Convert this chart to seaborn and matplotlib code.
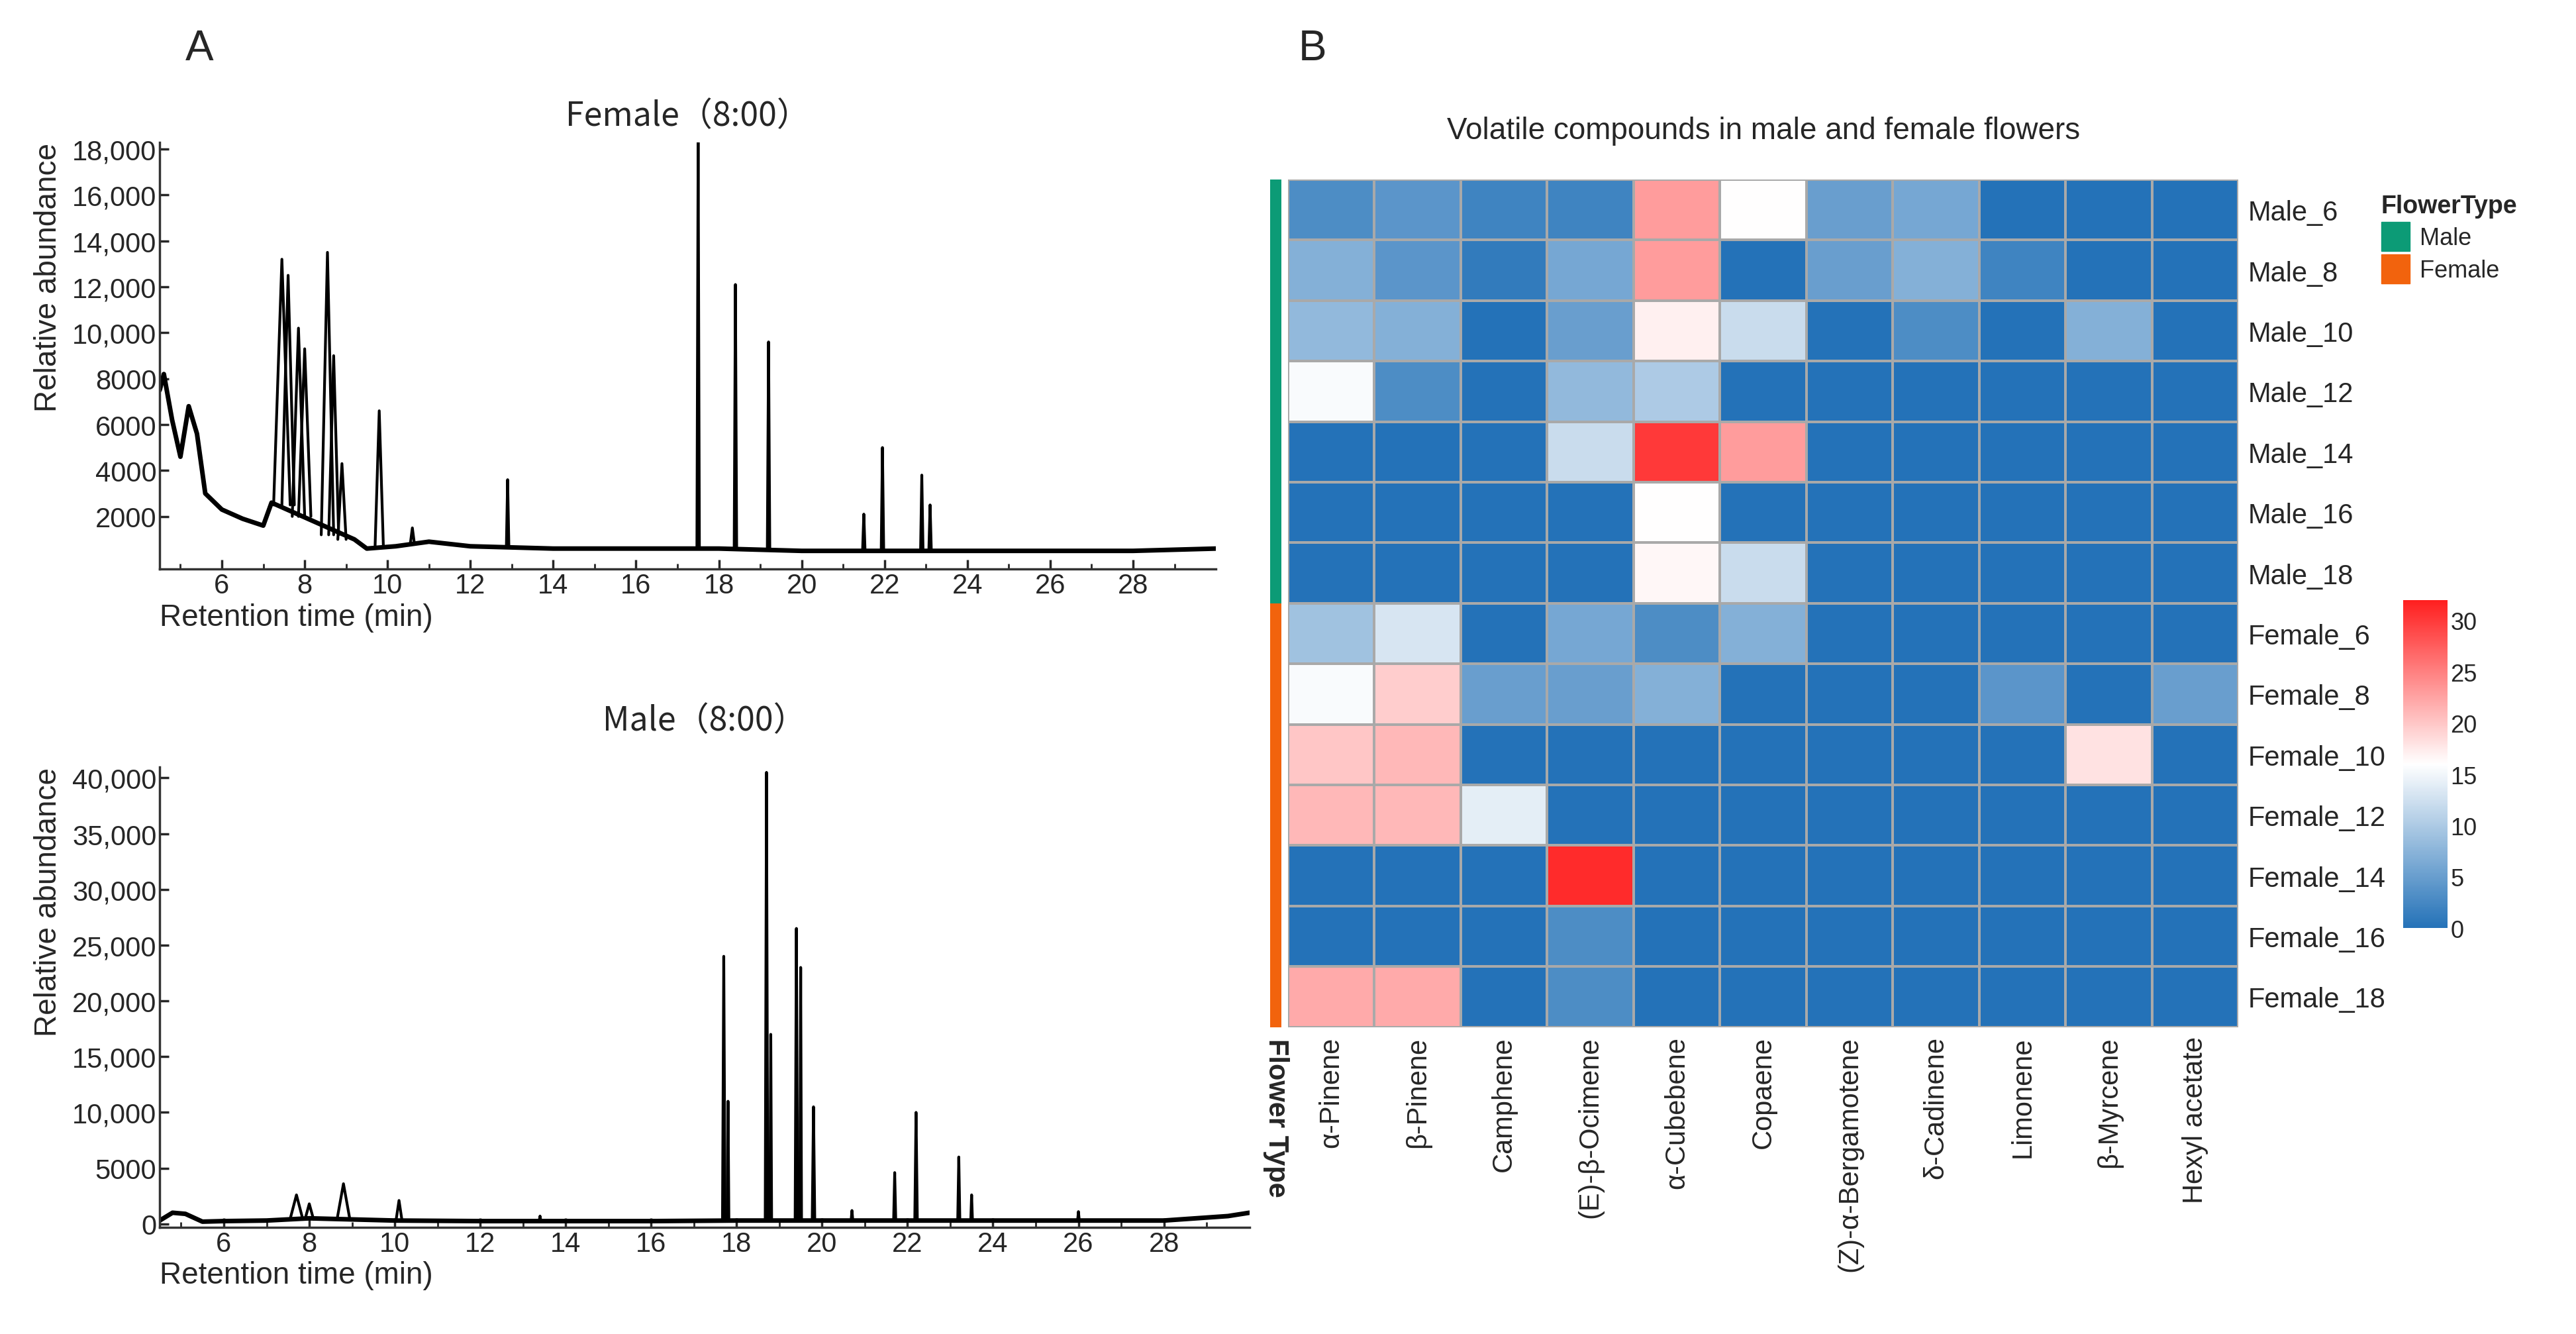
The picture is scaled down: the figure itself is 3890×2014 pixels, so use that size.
import matplotlib
matplotlib.use("Agg")
import matplotlib.pyplot as plt
import matplotlib.colors as mcolors
from matplotlib.patches import Patch
import seaborn as sns
import numpy as np
import pandas as pd

sns.set_style("white")
plt.rcParams['font.family'] = ['Liberation Sans', 'DejaVu Sans']

# ---- chromatogram data (retention time, abundance) ----
fem_base_t = [4.5, 4.6, 4.8, 5.0, 5.2, 5.4, 5.6, 6.0, 6.5, 7.0, 7.2, 9.2, 9.5, 10.2, 11, 12, 14, 16, 18, 20, 22, 24, 26, 28, 30]
fem_base_y = [7500, 8200, 6200, 4600, 6800, 5600, 3000, 2300, 1900, 1600, 2600, 1000, 600, 700, 900, 700, 600, 600, 600, 500, 500, 500, 500, 500, 600]
# peaks: time, height, half width, base level
fem_pk_t = [7.45, 7.6, 7.85, 8.0, 8.55, 8.7, 8.9, 9.8, 10.6, 12.9, 17.5, 18.4, 19.2, 21.5, 21.95, 22.9, 23.1]
fem_pk_h = [13200, 12500, 10200, 9300, 13500, 9000, 4300, 6600, 1500, 3600, 18300, 12100, 9600, 2100, 5000, 3800, 2500]
fem_pk_w = [0.2, 0.15, 0.15, 0.15, 0.15, 0.12, 0.1, 0.1, 0.05, 0.03, 0.03, 0.03, 0.03, 0.03, 0.03, 0.03, 0.03]
fem_pk_b = [2500, 2500, 2000, 2000, 1200, 1200, 1000, 700, 800, 700, 600, 600, 600, 500, 500, 500, 500]

male_base_t = [4.5, 4.8, 5.1, 5.5, 6, 7, 8, 9, 10, 12, 14, 16, 18, 20, 22, 24, 26, 28, 29.5, 30]
male_base_y = [300, 1000, 900, 200, 250, 300, 500, 400, 300, 250, 250, 250, 300, 300, 300, 300, 300, 300, 700, 1000]
male_pk_t = [7.7, 8.0, 8.8, 10.1, 13.4, 17.7, 17.8, 18.7, 18.8, 19.4, 19.5, 19.8, 20.7, 21.7, 22.2, 23.2, 23.5, 26.0]
male_pk_h = [2600, 1800, 3600, 2100, 700, 24000, 11000, 40500, 17000, 26500, 23000, 10500, 1200, 4600, 10000, 6000, 2600, 1100]
male_pk_w = [0.15, 0.1, 0.15, 0.07, 0.02, 0.03, 0.02, 0.03, 0.02, 0.03, 0.02, 0.03, 0.02, 0.025, 0.03, 0.025, 0.02, 0.02]
male_pk_b = [400, 400, 400, 300, 250, 300, 300, 300, 300, 300, 300, 300, 300, 300, 300, 300, 300, 300]

# ---- heatmap data ----
compounds = ["α-Pinene", "β-Pinene", "Camphene", "(E)-β-Ocimene", "α-Cubebene", "Copaene",
             "(Z)-α-Bergamotene", "δ-Cadinene", "Limonene", "β-Myrcene", "Hexyl acetate"]
samples = ["Male_6", "Male_8", "Male_10", "Male_12", "Male_14", "Male_16", "Male_18",
           "Female_6", "Female_8", "Female_10", "Female_12", "Female_14", "Female_16", "Female_18"]
flower_type = ["Male"] * 7 + ["Female"] * 7
values = [
    [3, 4, 2, 2, 23, 16, 5, 6, 0, 0, 0],
    [7, 4, 1, 6, 23, 0, 5, 7, 2, 0, 0],
    [8, 7, 0, 5, 17, 12, 0, 3, 0, 7, 0],
    [15.5, 3, 0, 8, 10, 0, 0, 0, 0, 0, 0],
    [0, 0, 0, 12, 30, 23, 0, 0, 0, 0, 0],
    [0, 0, 0, 0, 16, 0, 0, 0, 0, 0, 0],
    [0, 0, 0, 0, 16.5, 12, 0, 0, 0, 0, 0],
    [9, 13, 0, 6, 3, 7, 0, 0, 0, 0, 0],
    [15.5, 19.5, 5, 5, 7, 0, 0, 0, 4, 0, 5],
    [20, 21, 0, 0, 0, 0, 0, 0, 0, 18, 0],
    [21, 21, 14, 0, 0, 0, 0, 0, 0, 0, 0],
    [0, 0, 0, 31, 0, 0, 0, 0, 0, 0, 0],
    [0, 0, 0, 3, 0, 0, 0, 0, 0, 0, 0],
    [22, 22, 0, 3, 0, 0, 0, 0, 0, 0, 0],
]
type_colors = {"Male": "#0c9b76", "Female": "#f2630d"}

fig = plt.figure(figsize=(38.9, 20.15), dpi=100)


def chromatogram(ax, bt, by, pt, ph, pw, pb, ymax, yticks, title, title_pad):
    ax.plot(bt, by, color="black", lw=5)
    for t, h, w, b in zip(pt, ph, pw, pb):
        ax.plot([t - w, t, t + w], [b, h, b], color="black", lw=3)
    ax.set_xlim(4.5, 30)
    ax.set_ylim(-300, ymax)
    ax.set_xticks(range(6, 30, 2))
    ax.set_xticks(np.arange(5, 30, 1), minor=True)
    ax.set_yticks(yticks)
    ax.set_yticklabels([f"{v:,}" if v >= 10000 else str(v) for v in yticks])
    sns.despine(ax=ax)
    for s in ["left", "bottom"]:
        ax.spines[s].set_color("#333333")
        ax.spines[s].set_linewidth(2.5)
    ax.tick_params(axis="both", which="major", direction="in", length=10, width=2.5,
                   labelsize=30, left=True, bottom=True)
    ax.tick_params(axis="x", which="minor", direction="in", length=6, width=2, bottom=True)
    ax.set_xlabel("Retention time (min)", fontsize=33, loc="left", labelpad=4)
    ax.set_ylabel("Relative abundance", fontsize=33, loc="top", labelpad=10)
    ax.set_title(title, fontsize=36, pad=title_pad,
                 family=['Noto Sans CJK SC', 'Liberation Sans'])


ax1 = fig.add_axes([0.062, 0.573, 0.41, 0.32])
chromatogram(ax1, fem_base_t, fem_base_y, fem_pk_t, fem_pk_h, fem_pk_w, fem_pk_b, 18300,
             list(range(2000, 18001, 2000)), "Female（8:00）", 18)

ax2 = fig.add_axes([0.062, 0.08, 0.423, 0.345])
chromatogram(ax2, male_base_t, male_base_y, male_pk_t, male_pk_h, male_pk_w, male_pk_b, 41000,
             [0, 5000, 10000, 15000, 20000, 25000, 30000, 35000, 40000], "Male（8:00）", 40)

# ---- heatmap ----
df = pd.DataFrame(values, index=samples, columns=compounds)
cmap = mcolors.LinearSegmentedColormap.from_list(
    "bwr_custom", [(0, "#2472b8"), (0.5, "#ffffff"), (1.0, "#ff1f1f")])
hax = fig.add_axes([0.5, 0.23, 0.369, 0.635])
cax = fig.add_axes([0.933, 0.304, 0.017, 0.246])
sns.heatmap(df, ax=hax, cbar_ax=cax, cmap=cmap, vmin=0, vmax=32,
            linewidths=1.5, linecolor="#a9a9a9",
            cbar_kws={"ticks": [0, 5, 10, 15, 20, 25, 30]})
hax.yaxis.tick_right()
hax.set_yticklabels(samples, rotation=0, fontsize=30)
hax.set_xticklabels(compounds, rotation=90, fontsize=30)
hax.tick_params(length=0, pad=10)
hax.set_title("Volatile compounds in male and female flowers", fontsize=33, pad=45)
cax.tick_params(labelsize=26, length=0)
cax.set_frame_on(False)

# annotation strip
sax = fig.add_axes([0.493, 0.23, 0.0045, 0.635])
strip = pd.DataFrame({"FlowerType": [0 if f == "Male" else 1 for f in flower_type]}, index=samples)
sns.heatmap(strip, ax=sax, cbar=False, linewidths=0,
            cmap=mcolors.ListedColormap([type_colors["Male"], type_colors["Female"]]))
sax.set_xticks([])
sax.set_yticks([])
sax.set_xlabel("")
sax.set_ylabel("")
fig.text(0.4955, 0.222, "Flower Type", rotation=-90, ha="center", va="top",
         fontsize=30, fontweight="bold")

handles = [Patch(color=type_colors[k], label=k) for k in ["Male", "Female"]]
leg = fig.legend(handles=handles, title="FlowerType", loc="upper left",
                 bbox_to_anchor=(0.916, 0.87), frameon=False, fontsize=26,
                 title_fontsize=27, handlelength=1.2, handleheight=1.5,
                 handletextpad=0.4, labelspacing=0.15, alignment="left")
leg.get_title().set_fontweight("bold")

fig.text(0.072, 0.955, "A", fontsize=46)
fig.text(0.504, 0.955, "B", fontsize=46)

fig.savefig("out.png", dpi=100, facecolor="white")
